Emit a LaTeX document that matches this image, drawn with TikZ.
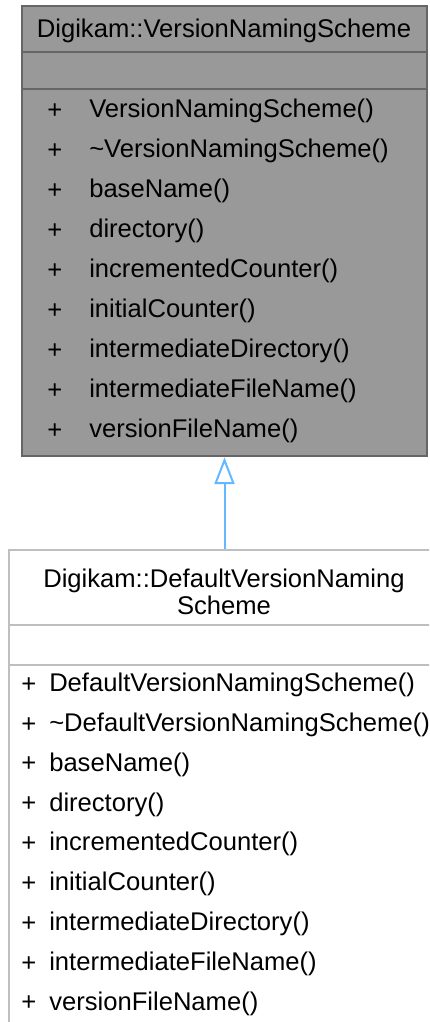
\documentclass[tikz,border=0pt]{standalone}
\usepackage{fontspec}
\setmainfont{Liberation Sans}
\usetikzlibrary{arrows.meta,positioning}
\definecolor{basefill}{HTML}{999999}
\definecolor{baseedge}{HTML}{666666}
\definecolor{derivedge}{HTML}{BFBFBF}
\definecolor{inherit}{HTML}{63B8FF}

\begin{document}
\begin{tikzpicture}[x=0.75pt,y=-0.75pt,
          every node/.style={font=\fontsize{19.2}{20.5}\selectfont,inner sep=0pt},
          classbox/.style={draw,line width=1.5pt,rectangle},
          member/.style={anchor=west},
          divider/.style={line width=1.5pt},
          inh/.style={-{Triangle[open,length=20pt,width=15pt,fill=white]},
                      draw=inherit,line width=1.5pt},
      ]
        \useasboundingbox (0,0) rectangle (429,1022);
        \clip (0,0) rectangle (429,1022);
        % base class
        \node[classbox,fill=basefill,draw=baseedge,
              minimum width=304pt,minimum height=338pt] (base) at (224.5,231) {};
        \draw[divider,baseedge] (base.west |- 0,52) -- (base.east |- 0,52);
        \draw[divider,baseedge] (base.west |- 0,89) -- (base.east |- 0,89);
        \node (basetitle) at (224,31) {Digikam::VersionNamingScheme};
        \foreach \i/\name in {0/VersionNamingScheme(),1/\textasciitilde VersionNamingScheme(),
            2/baseName(),3/directory(),4/incrementedCounter(),5/initialCounter(),
            6/intermediateDirectory(),7/intermediateFileName(),8/versionFileName()} {
          \node[member] (bp\i) at (47,111+40*\i) {+};
          \node[member] (bm\i) at (89,111+40*\i) {\name};
        }
        % derived class
        \node[classbox,fill=white,draw=derivedge,
              minimum width=324pt,minimum height=368pt] (derived) at (224.5,795) {};
        \draw[divider,derivedge] (derived.west |- 0,625) -- (derived.east |- 0,625);
        \draw[divider,derivedge] (derived.west |- 0,665) -- (derived.east |- 0,665);
        \node[align=center] (derivedtitle) at (224,592)
          {Digikam::DefaultVersionNaming\\Scheme};
        \foreach \i/\name in {0/DefaultVersionNamingScheme(),1/\textasciitilde DefaultVersionNamingScheme(),
            2/baseName(),3/directory(),4/incrementedCounter(),5/initialCounter(),
            6/intermediateDirectory(),7/intermediateFileName(),8/versionFileName()} {
          \node[member] (dp\i) at (21,685+39.8*\i) {+};
          \node[member] (dm\i) at (49,685+39.8*\i) {\name};
        }
        % inheritance
        \draw[inh] (derived.north) -- (base.south);
      \end{tikzpicture}
\end{document}
